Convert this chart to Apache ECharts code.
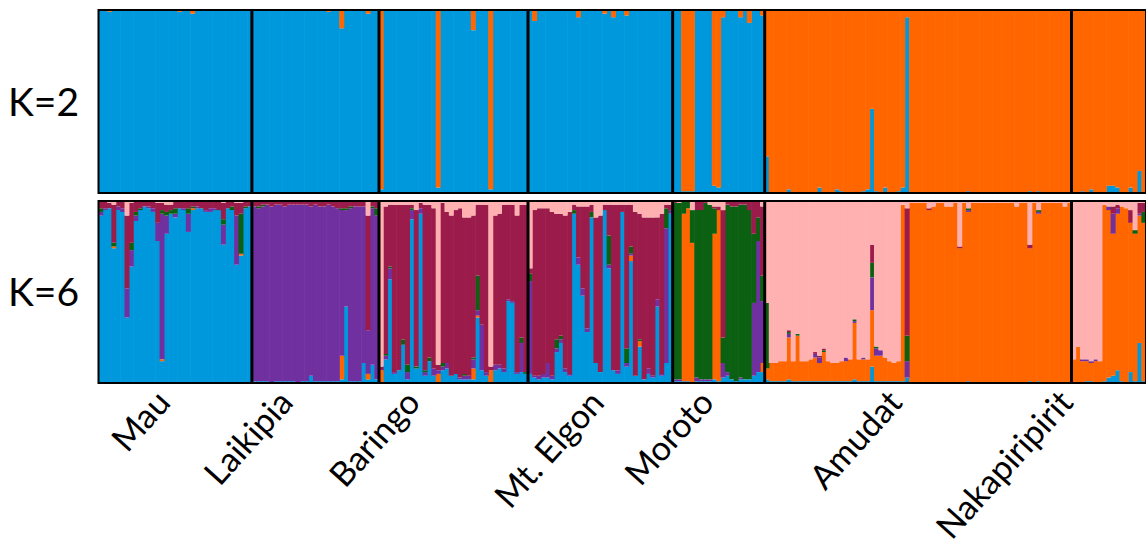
<!DOCTYPE html>
<html>
<head>
<meta charset="utf-8">
<script src="https://cdn.jsdelivr.net/npm/echarts@6/dist/echarts.min.js"></script>
<style>
  html, body { margin: 0; padding: 0; background: #fff; }
  #chart { width: 1146px; height: 554px; }
</style>
</head>
<body>
<div id="chart"></div>
<script>
// Sampled populations, in plotting order
const populations = ['Mau', 'Laikipia', 'Baringo', 'Mt. Elgon', 'Moroto', 'Amudat', 'Nakapiripirit'];

// K=2 membership (%), one row per individual: [cluster 1 (blue), cluster 2 (orange)]
const k2Mau = [
  [100,0],[100,0],[99,1],[100,0],[100,0],[100,0],[100,0],[100,0],[100,0],[100,0],
  [100,0],[100,0],[100,0],[100,0],[100,0],[100,0],[100,0],[100,0],[99,1],[100,0],
  [100,0],[98,2],[100,0],[100,0],[100,0],[100,0],[100,0],[100,0],[100,0],[100,0],
  [100,0],[100,0],[100,0],[100,0],[100,0]
];
const k2Laikipia = [
  [100,0],[100,0],[100,0],[100,0],[100,0],[100,0],[100,0],[100,0],[100,0],[100,0],
  [100,0],[100,0],[100,0],[100,0],[100,0],[100,0],[100,0],[99,1],[100,0],[100,0],
  [90,10],[100,0],[100,0],[100,0],[100,0],[100,0],[98,2],[100,0],[100,0]
];
const k2Baringo = [
  [2,98],[100,0],[100,0],[100,0],[100,0],[100,0],[100,0],[100,0],[100,0],[100,0],
  [100,0],[100,0],[100,0],[3,97],[100,0],[100,0],[100,0],[100,0],[100,0],[100,0],
  [100,0],[89,11],[100,0],[100,0],[100,0],[2,98],[100,0],[100,0],[100,0],[100,0],
  [100,0],[100,0],[100,0],[100,0]
];
const k2Elgon = [
  [100,0],[94,6],[100,0],[100,0],[100,0],[100,0],[100,0],[100,0],[100,0],[100,0],
  [100,0],[96,4],[100,0],[100,0],[100,0],[100,0],[100,0],[98,2],[100,0],[96,4],
  [100,0],[100,0],[97,3],[100,0],[100,0],[100,0],[100,0],[100,0],[100,0],[100,0],
  [100,0],[100,0],[100,0]
];
const k2Moroto = [
  [100,0],[100,0],[1,99],[1,99],[1,99],[100,0],[100,0],[100,0],[100,0],[4,96],
  [3,97],[96,4],[100,0],[100,0],[100,0],[96,4],[100,0],[93,7],[100,0],[100,0],
  [97,3]
];
const k2Amudat = [
  [20,80],[0,100],[0,100],[0,100],[0,100],[2,98],[0,100],[0,100],[0,100],[0,100],
  [0,100],[0,100],[3,97],[0,100],[0,100],[0,100],[2,98],[1,99],[0,100],[0,100],
  [0,100],[0,100],[1,99],[2,98],[46,54],[1,99],[0,100],[3,97],[0,100],[0,100],
  [1,99],[3,97],[96,4],[0,100],[0,100],[0,100],[0,100],[0,100],[0,100],[0,100],
  [0,100],[0,100],[0,100],[0,100],[0,100],[0,100],[1,99],[0,100],[0,100],[0,100],
  [0,100],[0,100],[0,100],[0,100],[0,100],[0,100],[0,100],[0,100],[0,100],[0,100],
  [1,99],[0,100],[1,99],[0,100],[0,100],[0,100],[0,100],[0,100],[0,100],[0,100]
];
const k2Nakapiripirit = [
  [0,100],[0,100],[1,99],[0,100],[2,98],[0,100],[0,100],[0,100],[4,96],[4,96],
  [3,97],[0,100],[0,100],[3,97],[0,100],[12,88],[0,100]
];

// K=6 membership (%), one row per individual:
// [blue, orange, purple, green, maroon, pink]
const k6Mau = [
  [92,0,2,2,4,0],[95,0,1,0,4,0],[96,0,0,0,3,1],[74,1,0,2,21,2],[95,0,2,0,3,0],
  [94,0,2,0,4,0],[36,0,16,0,40,8],[64,0,9,4,22,1],[89,0,3,2,6,0],[95,0,0,1,4,0],
  [97,0,0,0,3,0],[96,0,1,0,3,0],[94,0,2,0,4,0],[78,0,10,0,11,1],[12,1,80,2,4,1],
  [82,0,10,2,4,2],[93,0,0,2,3,2],[91,0,2,3,4,0],[96,0,0,0,4,0],[95,0,1,0,4,0],
  [83,0,10,3,4,0],[95,1,0,1,3,0],[96,0,1,0,3,0],[96,0,0,0,4,0],[94,0,1,0,5,0],
  [94,0,2,0,4,0],[95,0,1,0,4,0],[95,0,0,0,5,0],[76,0,11,3,9,1],[96,0,0,0,4,0],
  [95,0,0,2,3,0],[65,0,27,0,7,1],[70,1,0,22,6,1],[96,0,0,1,3,0],[97,0,0,0,3,0]
];
const k6Laikipia = [
  [1,0,96,0,3,0],[1,0,95,1,3,0],[1,0,96,1,2,0],[1,0,97,0,2,0],[0,0,97,0,3,0],
  [1,0,97,0,2,0],[1,0,97,0,2,0],[1,0,96,0,3,0],[1,0,97,0,2,0],[1,0,97,0,2,0],
  [0,0,98,0,2,0],[1,0,97,0,2,0],[1,0,97,0,2,0],[4,0,93,0,3,0],[1,0,97,0,2,0],
  [1,0,96,0,3,0],[1,0,96,0,3,0],[1,0,97,0,2,0],[1,0,96,0,3,0],[1,0,95,0,4,0],
  [2,13,80,1,4,0],[42,0,53,1,4,0],[1,0,95,1,3,0],[1,0,96,0,3,0],[1,0,96,0,3,0],
  [11,0,86,0,3,0],[2,3,24,0,63,8],[10,0,86,1,3,0],[2,0,90,4,4,0]
];
const k6Baringo = [
  [0,7,0,0,2,91],[13,0,2,1,81,3],[57,0,6,1,34,2],[5,0,1,0,92,2],[7,0,0,0,91,2],
  [21,0,0,3,74,2],[2,0,4,4,88,2],[90,0,5,1,2,2],[8,0,0,1,86,5],[93,0,3,0,3,1],
  [4,0,2,1,91,2],[12,0,0,2,84,2],[4,0,4,0,88,4],[0,5,2,0,3,90],[7,0,2,2,88,1],
  [8,0,3,0,83,6],[4,0,0,0,88,8],[5,0,0,0,90,5],[2,0,1,0,93,4],[2,0,2,1,86,9],
  [2,0,2,0,87,9],[2,6,5,1,78,8],[36,1,3,19,39,2],[7,0,25,0,66,2],[4,0,2,0,92,2],
  [0,7,0,0,2,91],[7,0,3,0,82,8],[8,0,2,0,83,7],[6,0,2,0,90,2],[45,0,1,0,52,2],
  [44,0,1,0,53,2],[5,0,1,0,86,8],[6,0,16,3,73,2],[5,0,0,1,92,2]
];
const k6Elgon = [
  [5,0,51,4,3,37],[3,0,1,0,91,5],[2,0,2,0,92,4],[3,0,2,0,91,4],[3,0,8,0,85,4],
  [2,0,2,0,90,6],[17,0,2,5,69,7],[22,0,2,2,67,7],[6,0,2,0,84,8],[4,0,1,0,89,6],
  [93,0,0,2,3,2],[65,0,4,0,28,3],[48,0,4,0,45,3],[28,0,2,0,67,3],[91,0,0,3,4,2],
  [11,0,0,0,80,9],[6,0,0,0,86,8],[95,0,0,0,3,2],[63,0,2,16,17,2],[7,0,0,0,91,2],
  [5,0,2,0,91,2],[94,0,0,0,4,2],[9,0,2,8,79,2],[67,3,1,4,23,2],[4,0,0,0,90,6],
  [20,3,0,1,69,7],[2,0,0,0,89,9],[5,0,3,0,83,9],[3,0,1,0,87,9],[42,0,4,0,45,9],
  [4,0,1,0,88,7],[11,0,74,11,2,2],[93,0,2,0,3,2]
];
const k6Moroto = [
  [1,0,1,97,1,0],[1,0,1,97,0,1],[1,92,0,7,0,0],[1,95,0,4,0,0],[0,77,0,18,0,5],
  [1,0,2,92,5,0],[1,0,1,93,5,0],[1,0,1,97,1,0],[1,0,1,96,0,2],[2,80,0,14,1,3],
  [1,94,0,0,2,3],[3,0,8,14,70,5],[4,0,2,92,2,0],[2,0,0,95,3,0],[1,0,0,96,3,0],
  [2,0,1,95,2,0],[2,0,0,96,2,0],[2,0,0,93,5,0],[4,0,40,38,18,0],[6,0,72,13,9,0],
  [6,5,34,14,38,3]
];
const k6Amudat = [
  [2,6,0,36,0,56],[1,10,0,0,0,89],[1,10,0,0,0,89],[1,11,0,0,0,88],[1,11,0,0,0,88],
  [2,23,2,1,1,71],[1,11,0,0,0,88],[1,25,0,1,0,73],[1,11,0,0,0,88],[1,11,0,0,0,88],
  [1,12,0,0,0,87],[1,13,2,0,1,83],[1,10,3,0,1,85],[1,16,0,1,1,81],[1,11,0,0,0,88],
  [1,10,0,0,0,89],[1,10,0,0,0,89],[1,11,0,0,0,88],[1,11,2,0,0,86],[1,12,0,0,0,87],
  [2,31,1,1,0,65],[1,12,0,0,0,87],[1,12,1,0,0,86],[1,12,0,0,0,87],[9,31,18,8,10,24],
  [1,14,4,1,0,80],[1,14,3,0,0,82],[1,13,0,0,0,86],[1,11,0,0,0,88],[1,10,0,0,0,89],
  [1,11,0,0,0,88],[1,97,0,0,0,2],[3,0,9,14,70,4],[0,99,0,0,0,1],[0,99,0,0,0,1],
  [0,99,0,0,0,1],[0,99,0,0,0,1],[0,95,0,0,1,4],[0,97,0,0,0,3],[0,99,0,0,0,1],
  [0,99,0,0,0,1],[0,97,0,0,0,3],[0,97,0,0,0,3],[0,99,0,0,0,1],[0,74,0,0,1,25],
  [0,99,0,0,0,1],[1,93,1,1,0,4],[0,99,0,0,0,1],[0,99,0,0,0,1],[0,99,0,0,0,1],
  [0,99,0,0,0,1],[0,99,0,0,0,1],[0,99,0,0,0,1],[0,99,0,0,0,1],[0,99,0,0,0,1],
  [0,99,0,0,0,1],[0,99,0,0,0,1],[0,97,0,0,0,3],[0,99,0,0,0,1],[0,99,0,0,0,1],
  [1,73,0,0,2,24],[0,99,0,0,0,1],[1,92,1,1,0,5],[0,99,0,0,0,1],[0,99,0,0,0,1],
  [0,99,0,0,0,1],[0,99,0,0,0,1],[0,99,0,0,0,1],[0,97,0,0,0,3],[0,99,0,0,0,1]
];
const k6Nakapiripirit = [
  [0,13,0,0,0,87],[0,20,0,0,0,80],[0,12,1,0,0,87],[1,11,1,0,0,87],[1,10,1,0,0,88],
  [0,12,1,0,0,87],[0,12,0,0,0,88],[1,97,0,0,0,2],[3,92,2,0,0,3],[4,78,11,0,4,3],
  [7,86,3,0,2,2],[1,96,0,0,0,3],[0,96,0,0,0,4],[6,82,0,0,7,5],[1,81,0,2,0,16],
  [22,70,1,0,6,1],[1,87,0,6,5,1]
];

// ---- assembly ----
const k2Groups = [k2Mau, k2Laikipia, k2Baringo, k2Elgon, k2Moroto, k2Amudat, k2Nakapiripirit];
const k6Groups = [k6Mau, k6Laikipia, k6Baringo, k6Elgon, k6Moroto, k6Amudat, k6Nakapiripirit];
const k2Colors = ['#0098DC', '#FF6600'];
const k6Colors = ['#0098DC', '#FF6600', '#7030A0', '#0B6012', '#9B1B4B', '#FFB0B0'];

const k2Rows = k2Groups.flat();
const k6Rows = k6Groups.flat();
const N = k2Rows.length;
const ids = k2Rows.map((_, i) => 'ind' + (i + 1));

const starts = [];
let acc = 0;
k2Groups.forEach(g => { starts.push(acc); acc += g.length; });
const separators = starts.slice(1).map(s => [s, 0]);

// where each population name is anchored (individual index relative to the group start)
const labelShift = [14, 7, 7, 15, 7, 29, -2];
const labelAt = {};
starts.forEach((s, i) => { labelAt[s + labelShift[i]] = populations[i]; });

const PLOT_LEFT = 98.5;
const PLOT_WIDTH = 1048.6;
const bandPx = PLOT_WIDTH / N;
const FONT = 'Lato, "Open Sans", sans-serif';

function barSeries(rows, colors, axis, stack) {
  return colors.map((c, k) => ({
    type: 'bar',
    xAxisIndex: axis,
    yAxisIndex: axis,
    stack: stack,
    barWidth: bandPx + 0.6,
    silent: true,
    itemStyle: { color: c },
    data: rows.map(r => r[k])
  }));
}

function separatorRender(params, api) {
  const x = api.value(0);
  const a = api.coord([x, 100]);
  const b = api.coord([x, 0]);
  return {
    type: 'line',
    shape: { x1: a[0], y1: a[1], x2: b[0], y2: b[1] },
    style: { stroke: '#000', lineWidth: 3 }
  };
}
function frameRender(params, api) {
  const a = api.coord([0, 100]);
  const b = api.coord([N, 0]);
  return {
    type: 'rect',
    shape: { x: a[0], y: a[1], width: b[0] - a[0], height: b[1] - a[1] },
    style: { fill: 'none', stroke: '#000', lineWidth: 2 }
  };
}

const chart = echarts.init(document.getElementById('chart'), null, { renderer: 'svg' });

const hiddenCat = (grid, withLabels) => ({
  type: 'category', gridIndex: grid, data: ids, boundaryGap: true,
  axisLine: { show: false }, axisTick: { show: false }, splitLine: { show: false },
  axisLabel: withLabels ? {
    show: true,
    interval: (i) => labelAt[i] !== undefined,
    formatter: (v, i) => labelAt[i] || '',
    rotate: 48,
    margin: 12,
    fontFamily: FONT,
    fontSize: 34,
    color: '#000'
  } : { show: false }
});
const hiddenVal = (grid) => ({
  type: 'value', gridIndex: grid, min: 0, max: N, show: false
});

const option = {
  animation: false,
  backgroundColor: '#fff',
  grid: [
    { left: PLOT_LEFT, top: 10, width: PLOT_WIDTH, height: 183 },
    { left: PLOT_LEFT, top: 201, width: PLOT_WIDTH, height: 182 }
  ],
  xAxis: [hiddenCat(0, false), hiddenCat(1, true), hiddenVal(0), hiddenVal(1)],
  yAxis: [
    { type: 'value', gridIndex: 0, min: 0, max: 100, show: false },
    { type: 'value', gridIndex: 1, min: 0, max: 100, show: false }
  ],
  graphic: [
    { type: 'text', x: 8, y: 101, style: { text: 'K=2', font: '39px ' + FONT, fill: '#000', verticalAlign: 'middle' } },
    { type: 'text', x: 8, y: 291, style: { text: 'K=6', font: '39px ' + FONT, fill: '#000', verticalAlign: 'middle' } }
  ],
  series: [
    ...barSeries(k2Rows, k2Colors, 0, 'k2'),
    ...barSeries(k6Rows, k6Colors, 1, 'k6'),
    { type: 'custom', xAxisIndex: 2, yAxisIndex: 0, z: 10, silent: true, renderItem: separatorRender, data: separators },
    { type: 'custom', xAxisIndex: 3, yAxisIndex: 1, z: 10, silent: true, renderItem: separatorRender, data: separators },
    { type: 'custom', xAxisIndex: 2, yAxisIndex: 0, z: 11, silent: true, renderItem: frameRender, data: [[0, 0]] },
    { type: 'custom', xAxisIndex: 3, yAxisIndex: 1, z: 11, silent: true, renderItem: frameRender, data: [[0, 0]] }
  ]
};
chart.setOption(option);
</script>
</body>
</html>
